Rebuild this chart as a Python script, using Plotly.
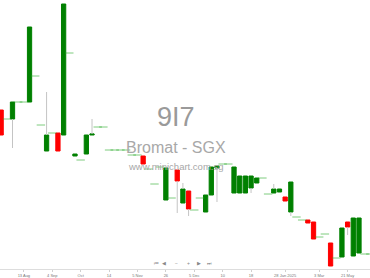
import plotly.graph_objects as go

# ---- data (price units, arbitrary linear scale) ----
candle_idx   = [0, 2, 5, 8, 10, 11, 13, 15, 16, 25, 29, 31, 32, 33, 36, 37, 38, 41, 42, 43, 44, 45, 48, 49, 50, 51, 54, 55, 58, 60, 61, 62, 63]
candle_open  = [159, 150, 167, 118, 136, 134, 113, 115, 134, 113, 69, 99, 66, 78, 57, 74, 101, 76, 76, 76, 81, 86, 76, 77, 72, 57, 49, 47, 26, 12, 47, 13, 16]
candle_close = [134, 167, 242, 134, 118, 265, 115, 134, 135, 105, 101, 88, 80, 60, 74, 102, 103, 102, 93, 93, 93, 91, 80, 80, 68, 87, 46, 30, 3, 41, 42, 51, 51]
candle_high  = [159, 167, 242, 177, 136, 265, 115, 134, 150, 113, 101, 99, 86, 78, 74, 102, 103, 102, 93, 93, 93, 91, 85, 80, 72, 87, 49, 47, 26, 41, 47, 51, 51]
candle_low   = [134, 121, 167, 118, 118, 134, 113, 115, 134, 105, 69, 56, 66, 53, 57, 74, 67, 76, 76, 76, 76, 86, 76, 77, 68, 53, 46, 30, 3, 12, 34, 13, 16]

flat_idx   = [1, 3, 4, 6, 7, 9, 12, 14, 17, 18, 19, 20, 21, 22, 23, 24, 26, 27, 28, 30, 34, 35, 39, 40, 46, 47, 52, 53, 56, 57, 59, 64, 65]
flat_price = [150, 167, 167, 193, 144, 136, 216, 109, 142, 142, 119, 119, 119, 119, 114, 114, 100, 85, 102, 71, 59, 71, 105, 105, 91, 75, 52, 49, 32, 35, 11, 15, 15]

tick_pos    = [4, 9, 14, 19, 24, 29, 34, 39, 44, 50, 56, 61]
tick_labels = ["13 Aug", "4 Sep", "Oct", "14", "5 Nov", "26", "5 Dec", "10", "18", "28 Jan 2025", "3 Mar", "21 May"]

GREEN = "#008000"
RED = "#ff0000"

fig = go.Figure()

body_hi = [max(o, c) for o, c in zip(candle_open, candle_close)]
body_lo = [min(o, c) for o, c in zip(candle_open, candle_close)]

# wicks (gray), only the parts outside the body
wx, wy = [], []
for i, h, l, bh, bl in zip(candle_idx, candle_high, candle_low, body_hi, body_lo):
    if h > bh:
        wx += [i, i, None]
        wy += [bh, h, None]
    if l < bl:
        wx += [i, i, None]
        wy += [l, bl, None]
fig.add_trace(go.Scatter(x=wx, y=wy, mode="lines", line=dict(color="#c4c4c4", width=1),
                         hoverinfo="skip", showlegend=False))

# bodies
fig.add_trace(go.Candlestick(
    x=candle_idx, open=candle_open, close=candle_close, high=body_hi, low=body_lo,
    increasing=dict(line=dict(color=GREEN, width=1), fillcolor=GREEN),
    decreasing=dict(line=dict(color=RED, width=1), fillcolor=RED),
    showlegend=False, whiskerwidth=0))

# no-trade days
fig.add_trace(go.Scatter(
    x=flat_idx, y=flat_price, mode="markers",
    marker=dict(symbol="line-ew", size=6, line=dict(color="rgba(40,170,40,0.6)", width=1)),
    showlegend=False))

font = "Liberation Sans, Arial, sans-serif"
ann = [
    dict(text="9I7", x=0.476, y=0.565, font=dict(size=27, color="#9a9a9a")),
    dict(text="Bromat - SGX", x=0.476, y=0.452, font=dict(size=16, color="#a8a8a8")),
    dict(text="www.minichart.com.sg", x=0.476, y=0.381, font=dict(size=9.5, color="#a8a8a8")),
]
for sym, px in zip(["⏮", "◀", "−", "+", "▶", "⏭"], [156, 164, 176, 188, 199, 209]):
    ann.append(dict(text=sym, x=px / 370, y=1 - 263 / 269, font=dict(size=5, color="#888888")))
for a in ann:
    a.update(xref="paper", yref="paper", showarrow=False, xanchor="center", yanchor="middle")
    a["font"]["family"] = font

fig.update_layout(
    width=370, height=278,
    margin=dict(l=0, r=0, t=0, b=9),
    paper_bgcolor="white", plot_bgcolor="white",
    boxgap=0.25, boxgroupgap=0,
    annotations=ann,
    font=dict(family=font),
    xaxis=dict(range=[-0.2, 64.94], rangeslider=dict(visible=False), showgrid=False, zeroline=False,
               tickmode="array", tickvals=tick_pos, ticktext=tick_labels,
               tickfont=dict(size=4, color="#777777"), ticks="outside", ticklen=2, tickcolor="#d0d0d0",
               showline=True, linecolor="#dddddd", linewidth=1),
    yaxis=dict(range=[0, 269], showgrid=False, zeroline=False, showticklabels=False, fixedrange=True),
)

fig.write_html("out.html")
